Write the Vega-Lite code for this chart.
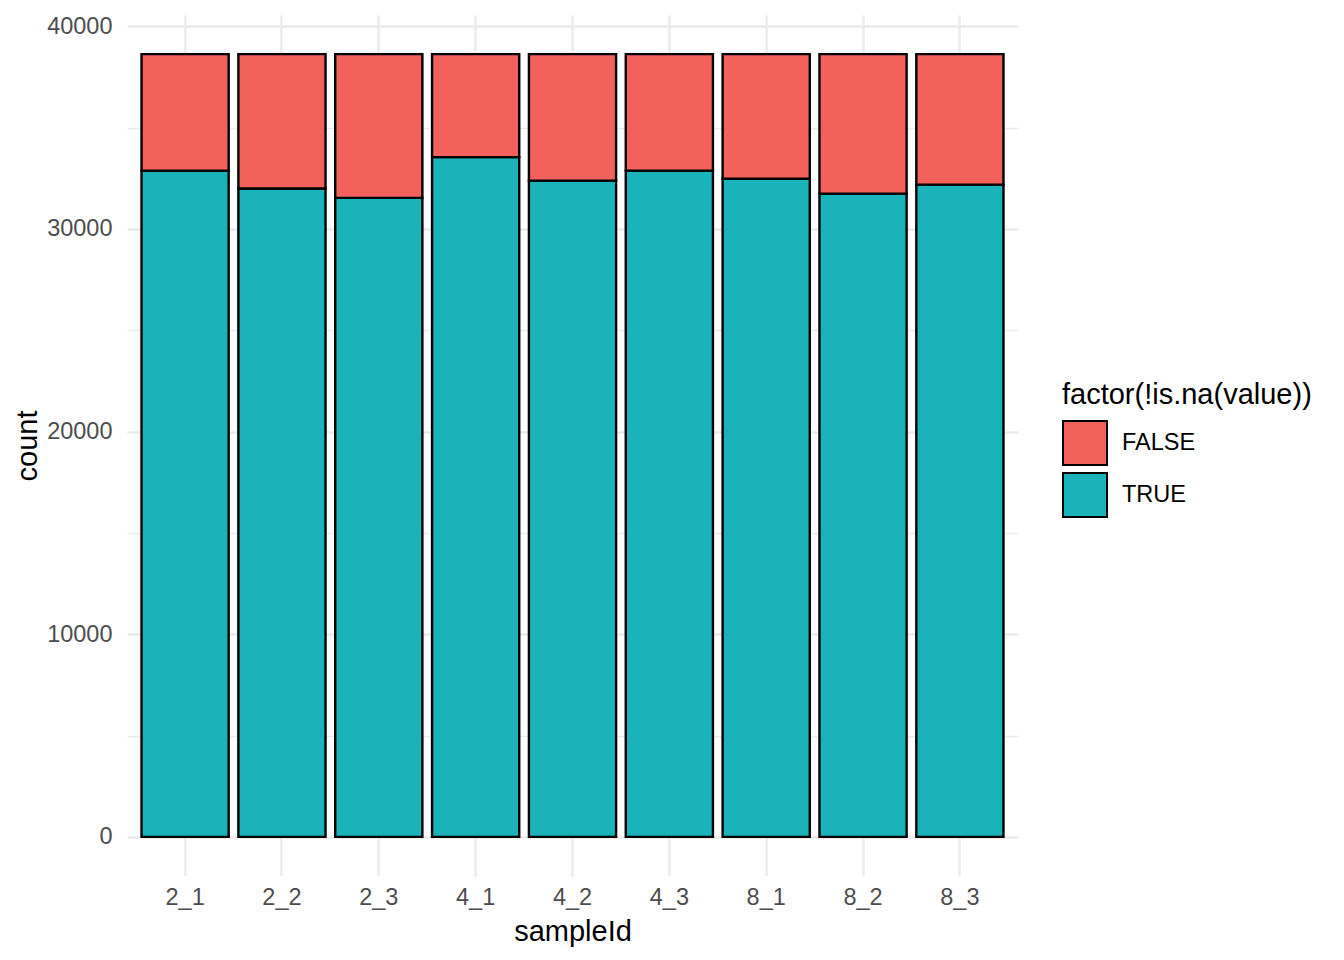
{
  "$schema": "https://vega.github.io/schema/vega-lite/v6.json",
  "width": 891,
  "height": 861,
  "autosize": {"type": "none"},
  "padding": {"left": 127, "top": 15, "right": 326, "bottom": 84},
  "background": "white",
  "config": {
    "view": {"stroke": null},
    "font": "Liberation Sans",
    "axis": {"domain": false, "ticks": false, "gridColor": "#EBEBEB", "labelColor": "#4D4D4D", "labelFontSize": 23.5, "titleFontSize": 29, "titleFontWeight": "normal", "titleColor": "black", "labelFont": "Liberation Sans", "titleFont": "Liberation Sans"},
    "legend": {"labelFont": "Liberation Sans", "titleFont": "Liberation Sans"}
  },
  "data": {
    "values": [
      {"sampleId": "2_1", "status": "TRUE", "count": 32870},
      {"sampleId": "2_1", "status": "FALSE", "count": 5750},
      {"sampleId": "2_2", "status": "TRUE", "count": 31990},
      {"sampleId": "2_2", "status": "FALSE", "count": 6630},
      {"sampleId": "2_3", "status": "TRUE", "count": 31530},
      {"sampleId": "2_3", "status": "FALSE", "count": 7090},
      {"sampleId": "4_1", "status": "TRUE", "count": 33540},
      {"sampleId": "4_1", "status": "FALSE", "count": 5080},
      {"sampleId": "4_2", "status": "TRUE", "count": 32380},
      {"sampleId": "4_2", "status": "FALSE", "count": 6240},
      {"sampleId": "4_3", "status": "TRUE", "count": 32870},
      {"sampleId": "4_3", "status": "FALSE", "count": 5750},
      {"sampleId": "8_1", "status": "TRUE", "count": 32470},
      {"sampleId": "8_1", "status": "FALSE", "count": 6150},
      {"sampleId": "8_2", "status": "TRUE", "count": 31740},
      {"sampleId": "8_2", "status": "FALSE", "count": 6880},
      {"sampleId": "8_3", "status": "TRUE", "count": 32180},
      {"sampleId": "8_3", "status": "FALSE", "count": 6440}
    ]
  },
  "mark": {"type": "bar", "stroke": "black", "strokeWidth": 2.4, "opacity": 1},
  "encoding": {
    "x": {
      "field": "sampleId", "type": "nominal", "title": "sampleId",
      "scale": {"paddingInner": 0.1, "paddingOuter": 0.15},
      "axis": {"labelAngle": 0, "grid": true, "bandPosition": 0.5, "gridWidth": 2.5, "labelPadding": 9, "titlePadding": 9, "labelBaseline": "top"}
    },
    "y": {
      "field": "count", "type": "quantitative", "title": "count", "stack": "zero",
      "scale": {"domain": [-1931, 40551], "nice": false, "zero": false},
      "axis": {
        "values": [0, 5000, 10000, 15000, 20000, 25000, 30000, 35000, 40000],
        "labelExpr": "datum.value % 10000 === 0 ? datum.value : ''",
        "gridWidth": {"condition": {"test": "datum.value % 10000 === 0", "value": 2.5}, "value": 1.3},
        "labelPadding": 15, "titlePadding": 4, "labelFlush": false, "labelOverlap": false
      }
    },
    "color": {
      "field": "status", "type": "nominal", "title": "factor(!is.na(value))",
      "scale": {"domain": ["FALSE", "TRUE"], "range": ["#F3615D", "#1AB3B9"]},
      "legend": {
        "orient": "none", "legendX": 935, "legendY": 366,
        "symbolType": "square", "symbolSize": 1936, "symbolStrokeColor": "black", "symbolStrokeWidth": 2, "symbolOpacity": 1,
        "labelFontSize": 23.5, "labelColor": "black", "labelOffset": 14, "labelLimit": 300,
        "titleFontSize": 29, "titleFontWeight": "normal", "titleColor": "black", "titlePadding": 10, "titleLimit": 400, "rowPadding": 0
      }
    },
    "order": {"field": "status", "sort": "descending"}
  }
}
